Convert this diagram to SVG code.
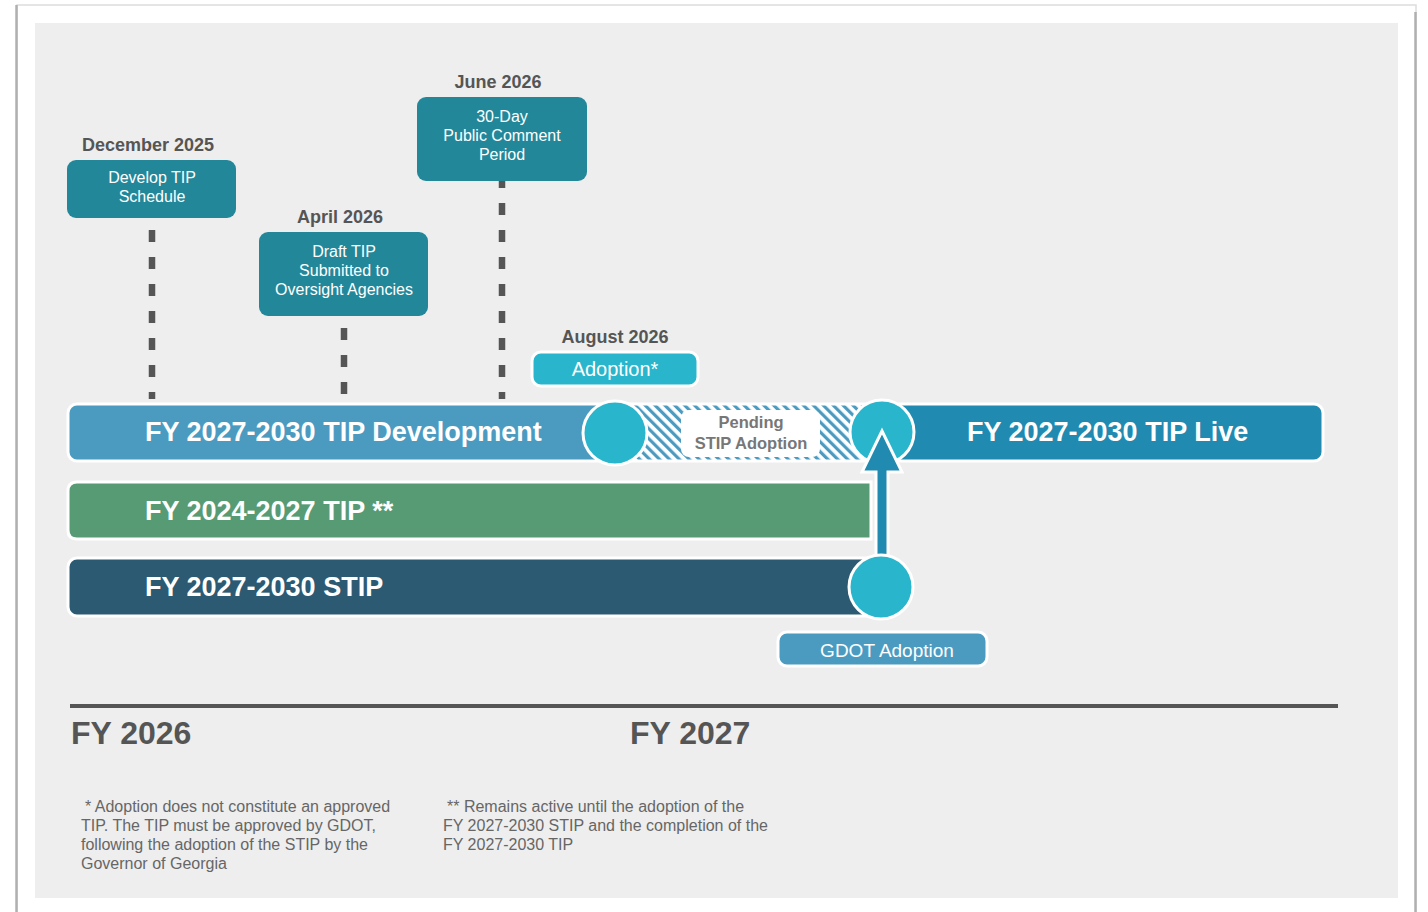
<svg xmlns="http://www.w3.org/2000/svg" width="1428" height="912" viewBox="0 0 1428 912">
<defs>
<style>
.title{font-family:"Liberation Sans",Arial,sans-serif;font-weight:bold;font-size:18px;fill:#555555;text-anchor:middle}
.boxtxt{font-family:"Liberation Sans",Arial,sans-serif;font-size:16px;fill:#ffffff;text-anchor:middle}
.barlbl{font-family:"Liberation Sans",Arial,sans-serif;font-weight:bold;font-size:27px;fill:#ffffff}
.fy{font-family:"Liberation Sans",Arial,sans-serif;font-weight:bold;font-size:32px;fill:#555555}
.note{font-family:"Liberation Sans",Arial,sans-serif;font-size:16px;fill:#666666}
.ms{fill:#23879a}
.dash{stroke:#555555;stroke-width:6.5;stroke-dasharray:12 15;fill:none}
.bar{stroke:#ffffff;stroke-width:3}
.dot{fill:#29b6cc;stroke:#ffffff;stroke-width:3}
</style>
<pattern id="hatch" patternUnits="userSpaceOnUse" width="7" height="7" patternTransform="rotate(-45)">
<rect width="7" height="7" fill="#ffffff"/>
<rect width="3.2" height="7" fill="#4b9bc1"/>
</pattern>
</defs>

<!-- page frame -->
<rect x="17" y="5" width="1399" height="915" fill="#ffffff" stroke="#dddddd" stroke-width="1.5"/>
<line x1="16.5" y1="5" x2="16.5" y2="912" stroke="#b0b0b0" stroke-width="2.5"/>
<line x1="1415.5" y1="12" x2="1415.5" y2="912" stroke="#b0b0b0" stroke-width="2.5"/>
<rect x="35" y="23" width="1363" height="875" fill="#eeeeee"/>

<!-- connectors -->
<g id="connectors">
<line class="dash" x1="152" y1="230" x2="152" y2="399"/>
<line class="dash" x1="344" y1="328" x2="344" y2="399"/>
<line class="dash" x1="502" y1="176" x2="502" y2="399"/>
</g>

<!-- milestones -->
<g id="dec2025">
<text class="title" x="148" y="151">December 2025</text>
<rect class="ms" x="67" y="160" width="169" height="58" rx="9"/>
<text class="boxtxt" x="152" y="183">Develop TIP</text>
<text class="boxtxt" x="152" y="202">Schedule</text>
</g>
<g id="apr2026">
<text class="title" x="340" y="223">April 2026</text>
<rect class="ms" x="259" y="232" width="169" height="84" rx="9"/>
<text class="boxtxt" x="344" y="257">Draft TIP</text>
<text class="boxtxt" x="344" y="276">Submitted to</text>
<text class="boxtxt" x="344" y="295">Oversight Agencies</text>
</g>
<g id="jun2026">
<text class="title" x="498" y="88">June 2026</text>
<rect class="ms" x="417" y="97" width="170" height="84" rx="9"/>
<text class="boxtxt" x="502" y="122">30-Day</text>
<text class="boxtxt" x="502" y="141">Public Comment</text>
<text class="boxtxt" x="502" y="160">Period</text>
</g>
<g id="aug2026">
<text class="title" x="615" y="343">August 2026</text>
<rect x="532" y="352" width="166" height="34" rx="9" fill="#29b6cc" stroke="#ffffff" stroke-width="3"/>
<text class="boxtxt" x="615" y="376" style="font-size:20px">Adoption*</text>
</g>

<!-- bars -->
<g id="tip-dev">
<rect class="bar" x="68" y="404" width="570" height="57" rx="9" fill="#4b9bc1"/>
<text class="barlbl" x="145" y="441">FY 2027-2030 TIP Development</text>
</g>
<g id="pending">
<rect x="615" y="404" width="267" height="57" fill="url(#hatch)" stroke="#ffffff" stroke-width="3"/>
<rect x="681" y="410" width="139" height="47" rx="8" fill="#ffffff"/>
<text class="title" x="751" y="428" style="font-size:16.5px;fill:#777777">Pending</text>
<text class="title" x="751" y="449" style="font-size:16.5px;fill:#777777">STIP Adoption</text>
</g>
<g id="tip-live">
<rect class="bar" x="870" y="404" width="453" height="57" rx="9" fill="#208ab1"/>
<text class="barlbl" x="967" y="441">FY 2027-2030 TIP Live</text>
</g>
<g id="tip-2024">
<path class="bar" d="M871 482 V539 H77 Q68 539 68 530 V491 Q68 482 77 482 Z" fill="#579b74"/>
<text class="barlbl" x="145" y="520">FY 2024-2027 TIP **</text>
</g>
<g id="stip">
<rect class="bar" x="68" y="558" width="830" height="58" rx="9" fill="#2b5a72"/>
<text class="barlbl" x="145" y="596">FY 2027-2030 STIP</text>
</g>

<!-- circles and arrow -->
<g id="circle-aug">
<circle class="dot" cx="615" cy="433" r="32"/>
</g>
<g id="circle-live">
<circle class="dot" cx="882" cy="432" r="32"/>
</g>
<g id="arrow">
<path d="M876 560 V472 H862 L882 431 L902 472 H888 V560 Z" fill="#208ab1" stroke="#ffffff" stroke-width="3" stroke-linejoin="miter"/>
</g>
<g id="circle-gdot">
<circle class="dot" cx="881" cy="587" r="32"/>
</g>
<g id="gdot">
<rect x="778" y="632" width="209" height="34" rx="9" fill="#4b9bc1" stroke="#ffffff" stroke-width="3"/>
<text class="boxtxt" x="887" y="657" style="font-size:19px">GDOT Adoption</text>
</g>

<!-- timeline -->
<g id="timeline">
<line x1="70" y1="706" x2="1338" y2="706" stroke="#555555" stroke-width="4"/>
<text class="fy" x="71" y="744">FY 2026</text>
<text class="fy" x="630" y="744">FY 2027</text>
</g>

<!-- notes -->
<g id="notes">
<text class="note" x="85" y="812"> * Adoption does not constitute an approved</text>
<text class="note" x="81" y="831">TIP. The TIP must be approved by GDOT,</text>
<text class="note" x="81" y="850">following the adoption of the STIP by the</text>
<text class="note" x="81" y="869">Governor of Georgia</text>
<text class="note" x="447" y="812">** Remains active until the adoption of the</text>
<text class="note" x="443" y="831">FY 2027-2030 STIP and the completion of the</text>
<text class="note" x="443" y="850">FY 2027-2030 TIP</text>
</g>
</svg>
